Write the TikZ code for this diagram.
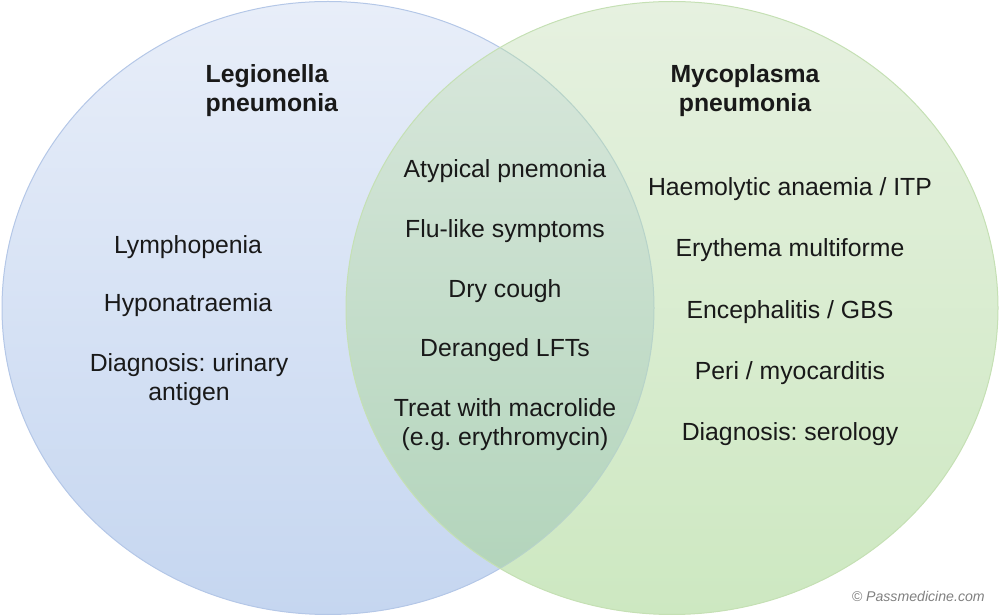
\documentclass[tikz,border=0pt]{standalone}
\usepackage{fontspec}
\setmainfont{Liberation Sans}
\frenchspacing
\definecolor{blueTop}{RGB}{232,238,249}
\definecolor{blueBot}{RGB}{197,214,240}
\definecolor{greenTop}{RGB}{230,241,224}
\definecolor{greenBot}{RGB}{205,232,193}
\definecolor{ovTop}{RGB}{218,232,221}
\definecolor{ovBot}{RGB}{176,211,185}
\definecolor{blueLine}{RGB}{180,199,231}
\definecolor{greenLine}{RGB}{197,224,180}
\definecolor{ovLine}{RGB}{183,211,201}
\definecolor{copyGrey}{RGB}{128,128,128}
\tikzset{
  item/.style={text=black!90, font=\fontsize{18.6}{21.5}\selectfont, align=center},
  title/.style={item, font=\fontsize{18.6}{21.5}\selectfont\bfseries},
  leftset/.style={x radius=326, y radius=306.5},
}
\begin{document}
\begin{tikzpicture}[x=0.75pt, y=-0.75pt]
  \useasboundingbox (0,0) rectangle (1000,616);
  % the two sets
  \shade[top color=blueTop, bottom color=blueBot] (328,308) ellipse [leftset];
  \draw[blueLine, line width=0.75pt] (328,308) ellipse [leftset];
  \shade[top color=greenTop, bottom color=greenBot] (672,308) ellipse [leftset];
  \begin{scope}
    \clip (328,308) ellipse [leftset];
    \shade[top color=ovTop, bottom color=ovBot] (672,308) ellipse [leftset];
  \end{scope}
  \begin{scope}
    \clip (672,308) ellipse [leftset];
    \draw[ovLine, line width=0.75pt] (328,308) ellipse [leftset];
  \end{scope}
  \draw[greenLine, line width=0.75pt] (672,308) ellipse [leftset];
  % Legionella
  \node[title, align=left, anchor=west] (legT) at (201,90.5) {Legionella\\pneumonia};
  \node[item] (lymph) at (188,247) {Lymphopenia};
  \node[item] (hypo) at (188,305.5) {Hyponatraemia};
  \node[item] (legDiag) at (189,379.5) {Diagnosis: urinary\\antigen};
  % common
  \node[item] (atyp) at (505,171) {Atypical pnemonia};
  \node[item] (flu) at (505,231.5) {Flu-like symptoms};
  \node[item] (cough) at (505,291) {Dry cough};
  \node[item] (lft) at (505,350) {Deranged LFTs};
  \node[item] (treat) at (505,424.5) {Treat with macrolide\\(e.g. erythromycin)};
  % Mycoplasma
  \node[title] (mycT) at (745,90.5) {Mycoplasma\\pneumonia};
  \node[item] (haem) at (790,189) {Haemolytic anaemia / ITP};
  \node[item] (ery) at (790,250) {Erythema multiforme};
  \node[item] (enc) at (790,312) {Encephalitis / GBS};
  \node[item] (peri) at (790,373) {Peri / myocarditis};
  \node[item] (mycDiag) at (790,434) {Diagnosis: serology};
  \node[anchor=east, text=copyGrey, font=\fontsize{10.6}{12}\selectfont\itshape, inner sep=0pt] (copy) at (985,596) {© Passmedicine.com};
\end{tikzpicture}
\end{document}
